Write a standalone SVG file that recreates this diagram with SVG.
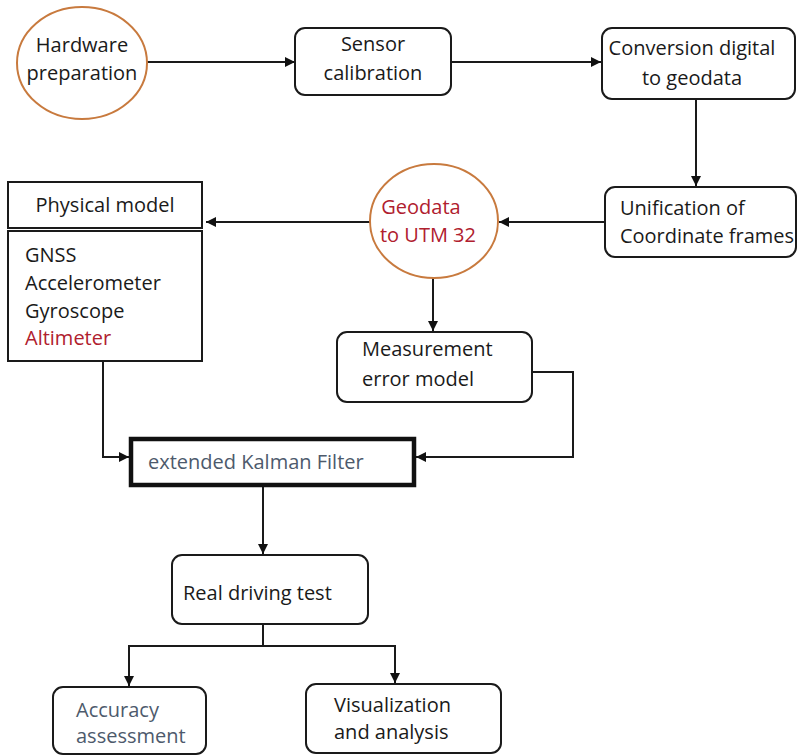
<svg xmlns="http://www.w3.org/2000/svg" width="798" height="756" viewBox="0 0 798 756">
<defs>
<marker id="arr" viewBox="0 0 10 10" refX="10" refY="5" markerWidth="10" markerHeight="10" markerUnits="userSpaceOnUse" orient="auto">
<path d="M0,0 L10,5 L0,10 z" fill="#111"/>
</marker>
</defs>
<style>
text{font-family:"Open Sans","Noto Sans","Liberation Sans",sans-serif;font-size:20px;fill:#1a1a1a}
.red{fill:#b0202e}
.gray{fill:#4d5a6c}
.mid{text-anchor:middle}
.oval{fill:#fff;stroke:#c87a3e;stroke-width:2}
.box{fill:#fff;stroke:#1a1a1a;stroke-width:2}
.edge{fill:none;stroke:#1a1a1a;stroke-width:2;marker-end:url(#arr)}
.line{fill:none;stroke:#1a1a1a;stroke-width:2}
</style>
<rect width="798" height="756" fill="#fff"/>
<g id="connectors">
<path class="edge" d="M147,62 L295,62"/>
<path class="edge" d="M451,62 L601,62"/>
<path class="edge" d="M696,99 L696,186"/>
<path class="edge" d="M605,222 L499,222"/>
<path class="edge" d="M370,222 L206,222"/>
<path class="edge" d="M433,278 L433,331"/>
<path class="edge" d="M103,361 L103,457 L129,457"/>
<path class="edge" d="M532,372 L573,372 L573,457 L416,457"/>
<path class="edge" d="M263,486 L263,554"/>
<path class="line" d="M263,624 L263,646"/>
<path class="edge" d="M263,646 L129,646 L129,686"/>
<path class="edge" d="M263,646 L395,646 L395,683"/>
</g>
<g id="hardware">
<ellipse class="oval" cx="82" cy="63" rx="65" ry="56"/>
<text class="mid" x="82" y="52">Hardware</text>
<text class="mid" x="82" y="80">preparation</text>
</g>
<g id="sensor">
<rect class="box" x="295" y="28" width="156" height="67" rx="10"/>
<text class="mid" x="373" y="51">Sensor</text>
<text class="mid" x="373" y="80">calibration</text>
</g>
<g id="conversion">
<rect class="box" x="602" y="28" width="193" height="71" rx="10"/>
<text class="mid" x="692" y="55">Conversion digital</text>
<text class="mid" x="692" y="85">to geodata</text>
</g>
<g id="unification">
<rect class="box" x="605" y="187" width="191" height="70" rx="10"/>
<text x="620" y="215">Unification of</text>
<text x="620" y="243" textLength="174" lengthAdjust="spacingAndGlyphs">Coordinate frames</text>
</g>
<g id="geodata">
<ellipse class="oval" cx="434" cy="221" rx="64" ry="57"/>
<text class="mid red" x="421" y="214">Geodata</text>
<text class="mid red" x="428" y="242">to UTM 32</text>
</g>
<g id="physical">
<rect class="box" x="8" y="182" width="194" height="46"/>
<text class="mid" x="105" y="212">Physical model</text>
<rect class="box" x="8" y="231" width="194" height="130"/>
<text x="25" y="262">GNSS</text>
<text x="25" y="290">Accelerometer</text>
<text x="25" y="318">Gyroscope</text>
<text class="red" x="25" y="345">Altimeter</text>
</g>
<g id="measurement">
<rect class="box" x="337" y="332" width="195" height="70" rx="10"/>
<text x="362" y="356">Measurement</text>
<text x="362" y="386">error model</text>
</g>
<g id="kalman">
<rect x="131" y="439" width="283" height="46" fill="#fff" stroke="#111" stroke-width="4.5"/>
<text class="gray" x="148" y="469">extended Kalman Filter</text>
</g>
<g id="driving">
<rect class="box" x="172" y="555" width="196" height="69" rx="10"/>
<text x="183" y="600">Real driving test</text>
</g>
<g id="accuracy">
<rect class="box" x="53" y="687" width="153" height="67" rx="10"/>
<text class="gray" x="76" y="717">Accuracy</text>
<text class="gray" x="76" y="743">assessment</text>
</g>
<g id="visualization">
<rect class="box" x="306" y="684" width="195" height="69" rx="10"/>
<text x="334" y="712">Visualization</text>
<text x="334" y="739">and analysis</text>
</g>
</svg>
